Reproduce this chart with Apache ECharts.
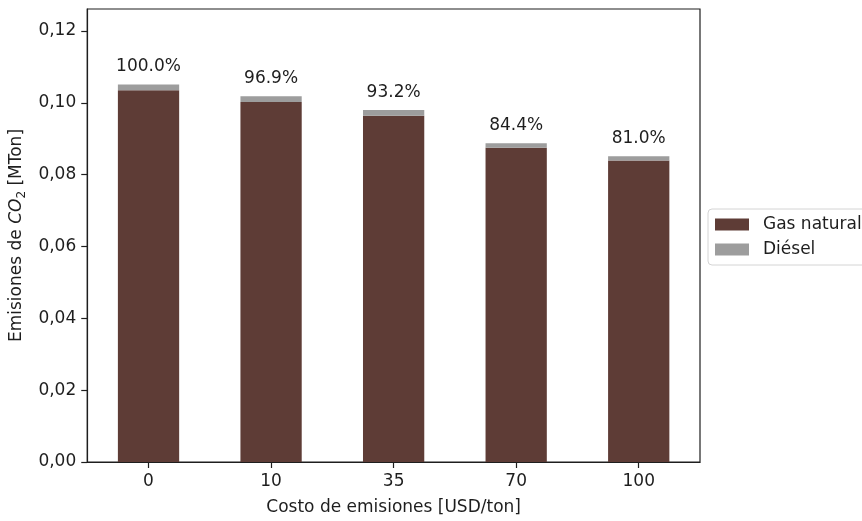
<!DOCTYPE html>
<html>
<head>
<meta charset="utf-8">
<script src="https://cdn.jsdelivr.net/npm/echarts@6/dist/echarts.min.js"></script>
<style>
  html, body { margin: 0; padding: 0; background: #ffffff; }
  #chart { width: 862px; height: 521px; }
</style>
</head>
<body>
<div id="chart"></div>
<script>
// Emissions per carbon-price scenario, split by fuel (MTon CO2)
const categories = ['0', '10', '35', '70', '100'];
const gasNatural = [0.1035, 0.1002, 0.0964, 0.0875, 0.0839];
const diesel = [0.0016, 0.0016, 0.0016, 0.0012, 0.0012];
const shareLabels = ['100.0%', '96.9%', '93.2%', '84.4%', '81.0%'];
const yTicks = [0, 0.02, 0.04, 0.06, 0.08, 0.10, 0.12];

const FONT = 'DejaVu Sans';
const FS = 17;
const INK = '#1e1e1e';
const BROWN = '#5e3c36';
const GREY = '#9d9d9d';

const chart = echarts.init(document.getElementById('chart'), null, { renderer: 'canvas' });
chart.setOption({
  animation: false,
  backgroundColor: '#ffffff',
  textStyle: { fontFamily: FONT },
  grid: {
    left: 85, top: 9, right: 162, bottom: 58,
    show: true, borderColor: INK, borderWidth: 1.2, backgroundColor: 'transparent'
  },
  legend: {
    orient: 'vertical',
    left: 708, top: 209,
    data: ['Gas natural', 'Diésel'],
    itemWidth: 34, itemHeight: 12, itemGap: 8,
    icon: 'rect',
    padding: [7, 40, 7, 7],
    borderColor: '#d4d4d4', borderWidth: 1, borderRadius: 4,
    backgroundColor: '#ffffff',
    textStyle: { fontFamily: FONT, fontSize: FS, color: INK, padding: [0, 0, 0, 9] }
  },
  xAxis: {
    type: 'category',
    data: categories,
    boundaryGap: true,
    name: 'Costo de emisiones [USD/ton]',
    nameLocation: 'middle', nameGap: 37,
    nameTextStyle: { fontFamily: FONT, fontSize: FS, color: INK },
    axisLine: { show: true, onZero: false, lineStyle: { color: INK, width: 1.2 } },
    axisTick: { show: true, length: 6, alignWithLabel: true, lineStyle: { color: INK, width: 1.2 } },
    axisLabel: { margin: 11, fontFamily: FONT, fontSize: FS, color: INK },
    splitLine: { show: false }
  },
  yAxis: {
    type: 'value',
    min: 0, max: 0.1261,
    name: '{a|Emisiones de }{b|CO}{c|2}{a| [MTon]}',
    nameLocation: 'middle', nameGap: 53, nameRotate: 90,
    nameTextStyle: {
      fontFamily: FONT, color: INK,
      rich: {
        a: { fontFamily: FONT, fontSize: FS, color: INK, lineHeight: 22 },
        b: { fontFamily: FONT, fontSize: FS, fontStyle: 'italic', color: INK, lineHeight: 22 },
        c: { fontFamily: FONT, fontSize: 12, color: INK, lineHeight: 13, verticalAlign: 'bottom' }
      }
    },
    axisLine: { show: true, onZero: false, lineStyle: { color: INK, width: 1.2 } },
    axisTick: { show: true, length: 6, customValues: yTicks, lineStyle: { color: INK, width: 1.2 } },
    axisLabel: {
      customValues: yTicks, margin: 11,
      fontFamily: FONT, fontSize: FS, color: INK,
      formatter: (v) => v.toFixed(2).replace('.', ',')
    },
    splitLine: { show: false }
  },
  series: [
    {
      name: 'Gas natural',
      type: 'bar',
      stack: 'fuel',
      barWidth: '50%',
      itemStyle: { color: BROWN },
      data: gasNatural
    },
    {
      name: 'Diésel',
      type: 'bar',
      stack: 'fuel',
      barWidth: '50%',
      itemStyle: { color: GREY },
      data: diesel,
      label: {
        show: true, position: 'top', distance: 9,
        fontFamily: FONT, fontSize: FS, color: INK,
        formatter: (p) => shareLabels[p.dataIndex]
      }
    }
  ]
});
</script>
</body>
</html>
